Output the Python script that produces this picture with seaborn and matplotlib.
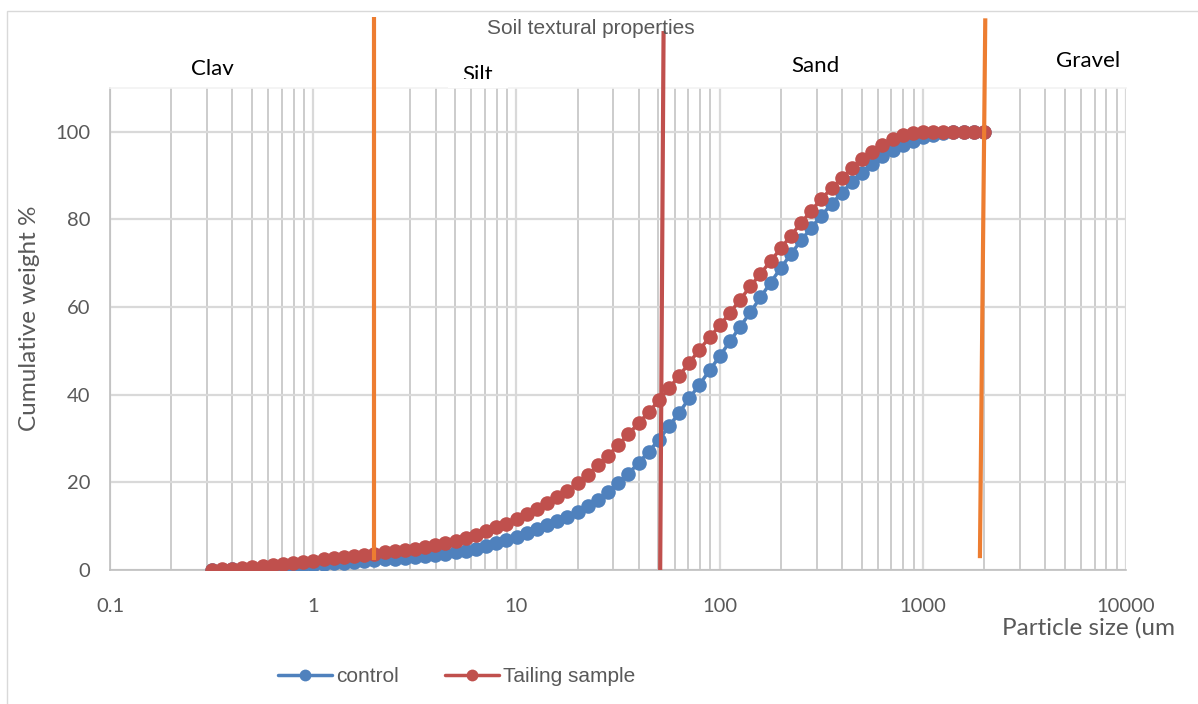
import matplotlib
matplotlib.use("Agg")
import matplotlib.pyplot as plt
from matplotlib.ticker import LogLocator, FixedLocator, FixedFormatter, NullFormatter
from matplotlib.patches import Rectangle
from matplotlib.lines import Line2D
import numpy as np
import pandas as pd
import seaborn as sns

# Particle size classes (um)
particle_size = [
    0.316, 0.355, 0.399, 0.448, 0.502, 0.564, 0.632, 0.710, 0.796, 0.893,
    1.002, 1.125, 1.262, 1.416, 1.589, 1.783, 2.000, 2.244, 2.518, 2.825,
    3.170, 3.557, 3.991, 4.477, 5.024, 5.637, 6.325, 7.096, 7.962, 8.934,
    10.024, 11.247, 12.619, 14.159, 15.887, 17.825, 20.000, 22.440, 25.179, 28.251,
    31.698, 35.566, 39.905, 44.774, 50.238, 56.368, 63.246, 70.963, 79.621, 89.337,
    100.237, 112.468, 126.191, 141.589, 158.866, 178.250, 200.000, 224.404, 251.785, 282.508,
    316.979, 355.656, 399.052, 447.744, 502.377, 563.677, 632.456, 709.627, 796.214, 893.367,
    1002.374, 1124.683, 1261.915, 1415.892, 1588.656, 1782.502, 2000.000,
]

# Cumulative weight (%) of the control soil
control = [
    0.0, 0.1, 0.2, 0.3, 0.4, 0.5, 0.6, 0.75, 0.9, 1.05,
    1.2, 1.35, 1.5, 1.65, 1.8, 2.0, 2.2, 2.4, 2.6, 2.8,
    3.0, 3.25, 3.5, 3.75, 4.0, 4.4, 4.9, 5.5, 6.2, 6.9,
    7.6, 8.4, 9.3, 10.2, 11.1, 12.1, 13.2, 14.5, 16.0, 17.8,
    19.8, 22.0, 24.4, 27.0, 29.7, 32.8, 35.9, 39.2, 42.3, 45.6,
    48.8, 52.2, 55.5, 58.8, 62.2, 65.6, 68.9, 72.1, 75.2, 78.1,
    80.9, 83.5, 86.1, 88.5, 90.7, 92.7, 94.4, 95.8, 97.0, 98.0,
    98.8, 99.3, 99.7, 99.9, 100.0, 100.0, 100.0,
]

# Cumulative weight (%) of the tailing sample
tailing = [
    0.0, 0.15, 0.3, 0.5, 0.7, 0.9, 1.15, 1.4, 1.65, 1.9,
    2.15, 2.4, 2.65, 2.9, 3.15, 3.4, 3.7, 4.0, 4.3, 4.6,
    4.9, 5.3, 5.7, 6.2, 6.7, 7.3, 8.0, 8.8, 9.7, 10.6,
    11.6, 12.7, 13.9, 15.2, 16.6, 18.1, 19.8, 21.7, 23.9, 26.1,
    28.5, 31.0, 33.5, 36.0, 38.7, 41.5, 44.3, 47.3, 50.3, 53.1,
    55.8, 58.7, 61.7, 64.7, 67.6, 70.5, 73.4, 76.3, 79.2, 82.0,
    84.7, 87.1, 89.4, 91.7, 93.7, 95.5, 97.0, 98.3, 99.2, 99.7,
    99.9, 100.0, 100.0, 100.0, 100.0, 100.0, 100.0,
]

series_names = ["control", "Tailing sample"]
series_colors = ["#4F81BD", "#C0504D"]

# Texture class boundaries (clay/silt, silt/sand, sand/gravel)
bound_x_top = [2.0, 53.0, 2030.0]
bound_x_bottom = [2.0, 51.0, 1910.0]
bound_y_top = [126.3, 123.0, 125.9]
bound_y_bottom = [2.3, 0.0, 2.7]
bound_colors = ["#ED7D31", "#C0504D", "#ED7D31"]

# Texture class names drawn above the plot
class_names = ["Clay", "Silt", "Sand", "Gravel"]

x_ticks = [0.1, 1, 10, 100, 1000, 10000]
x_tick_labels = ["0.1", "1", "10", "100", "1000", "10000"]
y_ticks = [0, 20, 40, 60, 80, 100]

df = pd.DataFrame({
    "size": particle_size * 2,
    "cum": control + tailing,
    "sample": [series_names[0]] * len(control) + [series_names[1]] * len(tailing),
})

sns.set_theme(style="white")
plt.rcParams["font.family"] = ["Lato", "DejaVu Sans"]

W, H = 1198, 704
fig = plt.figure(figsize=(W / 100, H / 100), dpi=100)
ax = fig.add_axes([110 / W, 1 - 570 / H, (1126 - 110) / W, (570 - 88) / H])

sns.lineplot(
    data=df, x="size", y="cum", hue="sample", hue_order=series_names,
    palette=series_colors, marker="o", markersize=10.5, markeredgewidth=0,
    linewidth=2.5, estimator=None, sort=False, legend=False, ax=ax, zorder=3,
)

ax.set_xscale("log")
ax.set_xlim(0.1, 10000)
ax.set_ylim(0, 110)

ax.xaxis.set_major_locator(FixedLocator(x_ticks))
ax.xaxis.set_major_formatter(FixedFormatter(x_tick_labels))
ax.xaxis.set_minor_locator(LogLocator(base=10, subs=np.arange(2, 10)))
ax.xaxis.set_minor_formatter(NullFormatter())
ax.set_yticks(y_ticks)

ax.grid(which="major", axis="x", color="#D9D9D9", linewidth=1.6)
ax.grid(which="minor", axis="x", color="#BFBFBF", linewidth=1.1)
ax.grid(which="major", axis="y", color="#D9D9D9", linewidth=1.6)
ax.set_axisbelow(True)

ax.tick_params(axis="both", which="both", length=0, colors="#595959", labelsize=14.5)
ax.tick_params(axis="x", pad=20)
ax.tick_params(axis="y", pad=14)

ax.spines["right"].set_visible(False)
ax.spines["top"].set_color("#F2F2F2")
ax.spines["left"].set_color("#BFBFBF")
ax.spines["bottom"].set_color("#BFBFBF")
for side in ["top", "left", "bottom"]:
    ax.spines[side].set_linewidth(1.2)

ax.set_xlabel("")
ax.set_ylabel("")

# Class boundary lines, drawn above the curves and beyond the plot area
for xt, xb, yt, yb, c in zip(bound_x_top, bound_x_bottom, bound_y_top, bound_y_bottom, bound_colors):
    ax.plot([xb, xt], [yb, yt], color=c, linewidth=3.0, clip_on=False, zorder=5,
            solid_capstyle="butt")

# Axis titles
fig.text(1175 / W, 1 - 628 / H, "Particle size (um", ha="right", va="center",
         fontsize=17.5, color="#595959")
fig.text(30 / W, 1 - 318 / H, "Cumulative weight %", ha="center", va="center",
         rotation=90, fontsize=17.5, color="#595959")

# Chart title
fig.text(591 / W, 1 - 28 / H, "Soil textural properties", ha="center", va="center",
         fontsize=15, color="#595959", family=["Liberation Sans", "DejaVu Sans"])

# Class name text boxes; the boxes are short and crop the lower part of some labels
class_x = [212, 478, 815, 1088]
class_baseline = [75, 81, 72, 67]
class_box_bottom = [75, 79, None, None]
for name, cx, cy, cb in zip(class_names, class_x, class_baseline, class_box_bottom):
    fig.text(cx / W, 1 - cy / H, name, ha="center", va="baseline",
             fontsize=16, color="black", zorder=2)
    if cb is not None:
        fig.patches.append(Rectangle(((cx - 30) / W, 1 - (cb + 9) / H), 60 / W, 9 / H,
                                     transform=fig.transFigure, facecolor="white",
                                     edgecolor="none", zorder=3))

# Legend
handles = [
    Line2D([], [], color=c, linewidth=2.5, marker="o", markersize=8.5, markeredgewidth=0)
    for c in series_colors
]
leg = fig.legend(handles, series_names, loc="center", bbox_to_anchor=(457 / W, 1 - 677 / H),
                 ncol=2, frameon=False, handlelength=2.6, handletextpad=0.2,
                 columnspacing=2.2, prop={"family": ["Liberation Sans", "DejaVu Sans"], "size": 15})
for txt in leg.get_texts():
    txt.set_color("#595959")

# Outer chart border
fig.patches.append(Rectangle((7 / W, -0.05), 1.2, 1 - 11 / H + 0.05, transform=fig.transFigure,
                             fill=False, edgecolor="#D9D9D9", linewidth=1.0))

fig.savefig("out.png", dpi=100)
